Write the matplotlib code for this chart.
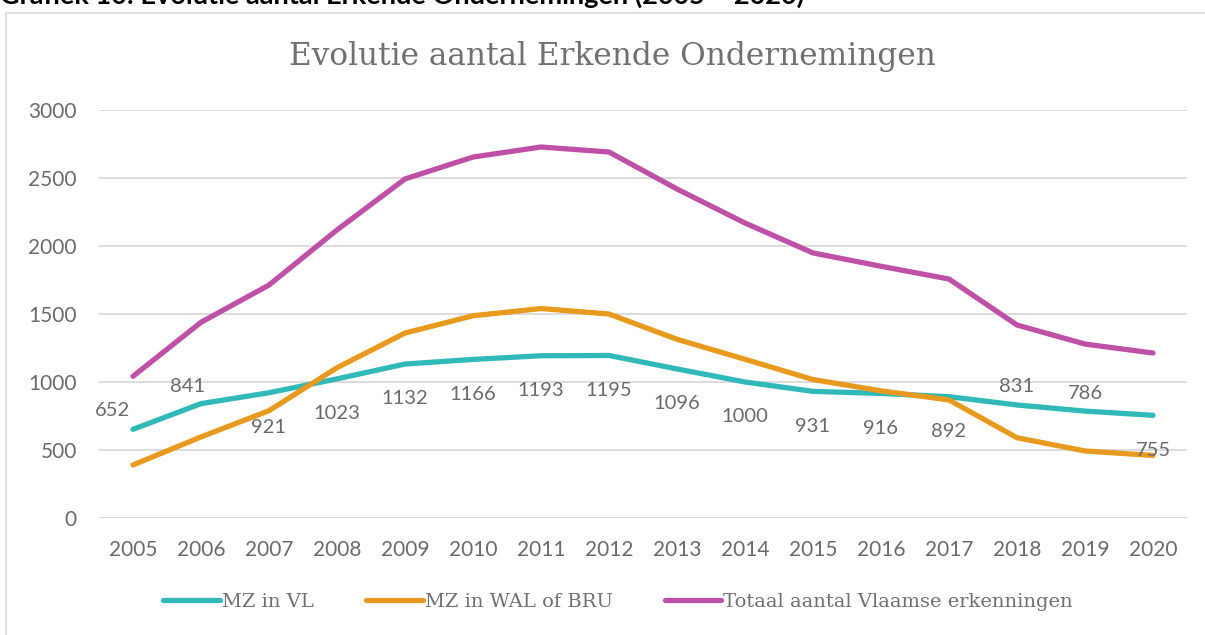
import matplotlib
matplotlib.use("Agg")
import matplotlib.pyplot as plt
from matplotlib.patches import Rectangle

years = [2005, 2006, 2007, 2008, 2009, 2010, 2011, 2012, 2013, 2014, 2015, 2016, 2017, 2018, 2019, 2020]
mz_vl = [652, 841, 921, 1023, 1132, 1166, 1193, 1195, 1096, 1000, 931, 916, 892, 831, 786, 755]
mz_wal_bru = [390, 596, 789, 1105, 1360, 1487, 1540, 1500, 1314, 1167, 1018, 935, 868, 590, 493, 460]
totaal = [1042, 1439, 1713, 2118, 2493, 2654, 2728, 2691, 2419, 2169, 1949, 1851, 1757, 1419, 1279, 1213]
label_pos = ["left", "aboveleft", "below", "below", "below", "below", "below", "below",
             "below", "below", "below", "below", "below", "above", "above", "below"]

series_names = ["MZ in VL", "MZ in WAL of BRU", "Totaal aantal Vlaamse erkenningen"]
colors = ["#31B9B9", "#E89A1F", "#BF50A8"]
title = "Evolutie aantal Erkende Ondernemingen"
caption = "Grafiek 10: Evolutie aantal Erkende Ondernemingen (2005 – 2020)"

text_grey = "#6A6A6A"

fig = plt.figure(figsize=(12.05, 6.35), dpi=100)
fig.patch.set_facecolor("white")

# outer chart frame
fig.patches.append(Rectangle((6 / 1205, -0.01), 1.0, 1 - 13 / 635 + 0.01,
                             transform=fig.transFigure, fill=False,
                             edgecolor="#D9D9D9", linewidth=1.2))
fig.text(0.0, 1 - 4 / 635, caption, fontsize=19.5, fontweight="bold",
         family="Lato", color="#000000", va="baseline", ha="left")

ax = fig.add_axes([99 / 1205, 1 - 518 / 635, 1088 / 1205, 408 / 635])
for s in ax.spines.values():
    s.set_visible(False)
ax.set_xlim(2004.5, 2020.5)
ax.set_ylim(0, 3000)
ax.set_yticks(range(0, 3001, 500))
ax.set_xticks(years)
ax.grid(axis="y", color="#D9D9D9", linewidth=1.3)
ax.set_axisbelow(True)
ax.tick_params(length=0, labelsize=15, labelcolor=text_grey)
ax.tick_params(axis="x", pad=16)
ax.tick_params(axis="y", pad=16)
for lab in ax.get_xticklabels() + ax.get_yticklabels():
    lab.set_family("Lato")

data = [mz_vl, mz_wal_bru, totaal]
for vals, name, c in zip(data, series_names, colors):
    ax.plot(years, vals, color=c, linewidth=3.8, solid_capstyle="round",
            solid_joinstyle="round", label=name)

offsets = {"left": (-15, 13.5), "aboveleft": (-10, 12), "above": (0, 13), "below": (0, -25)}
for x, v, p in zip(years, mz_vl, label_pos):
    dx, dy = offsets[p]
    ax.annotate(str(v), (x, v), xytext=(dx, dy), textcoords="offset points",
                ha="center", va="center", fontsize=14.5, color=text_grey,
                family="Lato")

fig.text(612 / 1205, 1 - 57 / 635, title, ha="center", va="center",
         fontsize=22.5, color="#707070", family="DejaVu Serif")

leg = fig.legend(loc="center", bbox_to_anchor=(0.513, 1 - 602 / 635), ncol=3,
                 frameon=False, handlelength=2.9, handletextpad=0.1,
                 columnspacing=2.7, prop={"family": "DejaVu Serif", "size": 14})
for t in leg.get_texts():
    t.set_color("#707070")

fig.savefig("out.png", dpi=100)
